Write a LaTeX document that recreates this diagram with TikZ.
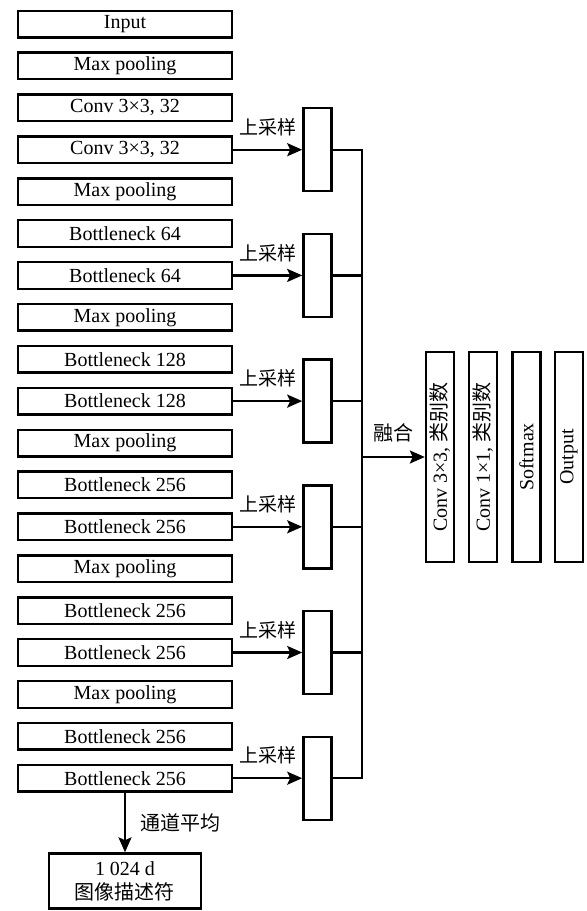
\documentclass[tikz,border=0pt]{standalone}
\usepackage{fontspec}
\setmainfont{Liberation Serif}
\newfontfamily\cjk{Noto Sans CJK SC}
\usetikzlibrary{positioning,arrows.meta,calc}

\begin{document}
\begin{tikzpicture}[x=0.5pt,y=-0.5pt,font=\fontsize{10}{12}\selectfont,line width=1.2pt,
  >={Stealth[length=7.5pt,width=6.5pt,inset=1.5pt]},
  layer/.style={draw,minimum width=107pt,minimum height=13.3pt,inner sep=0pt},
  fuse/.style={draw,minimum width=14pt,minimum height=41.5pt,inner sep=0pt},
  head/.style={draw,rotate=90,minimum width=105pt,minimum height=14pt,inner sep=0pt},
  lbl/.style={font=\cjk\fontsize{9.5}{11}\selectfont}]
  \useasboundingbox (0,0) rectangle (586,911);
  \foreach \t [count=\i from 0] in {Input,Max pooling,{Conv 3×3, 32},{Conv 3×3, 32},Max pooling,
      Bottleneck 64,Bottleneck 64,Max pooling,Bottleneck 128,Bottleneck 128,Max pooling,
      Bottleneck 256,Bottleneck 256,Max pooling,Bottleneck 256,Bottleneck 256,Max pooling,
      Bottleneck 256,Bottleneck 256}
    \node[layer] (l\i) at (125,24+41.9*\i) {\t};
  \foreach \k [evaluate=\k as \r using int(3*\k)] in {1,...,6} {
    \node[fuse,right=34.5pt of l\r] (f\k) {};
    \draw[->] (l\r) -- node[lbl,above=3pt] {上采样} (f\k);
  }
  \coordinate (bus) at (362,0);
  \draw (f1.east) -| (f6.east -| bus) -- (f6.east);
  \foreach \k in {2,...,5} \draw (f\k.east) -- (f\k.east -| bus);
  \node[head] (h1) at (440,457) {Conv 3×3, {\cjk 类别数}};
  \node[head] (h2) at (483,457) {Conv 1×1, {\cjk 类别数}};
  \node[head] (h3) at (526.5,457) {Softmax};
  \node[head] (h4) at (569,457) {Output};
  \draw[->] (h1.north -| bus) -- node[font=\cjk,above=3.5pt] {融合} (h1.north);
  \node[draw,minimum width=76pt,minimum height=27.5pt,inner sep=0pt,align=center] (desc) at (125,881) {1 024 d\\{\cjk 图像描述符}};
  \draw[->] (l18) -- node[font=\cjk,right=4pt] {通道平均} (desc);
\end{tikzpicture}
\end{document}
